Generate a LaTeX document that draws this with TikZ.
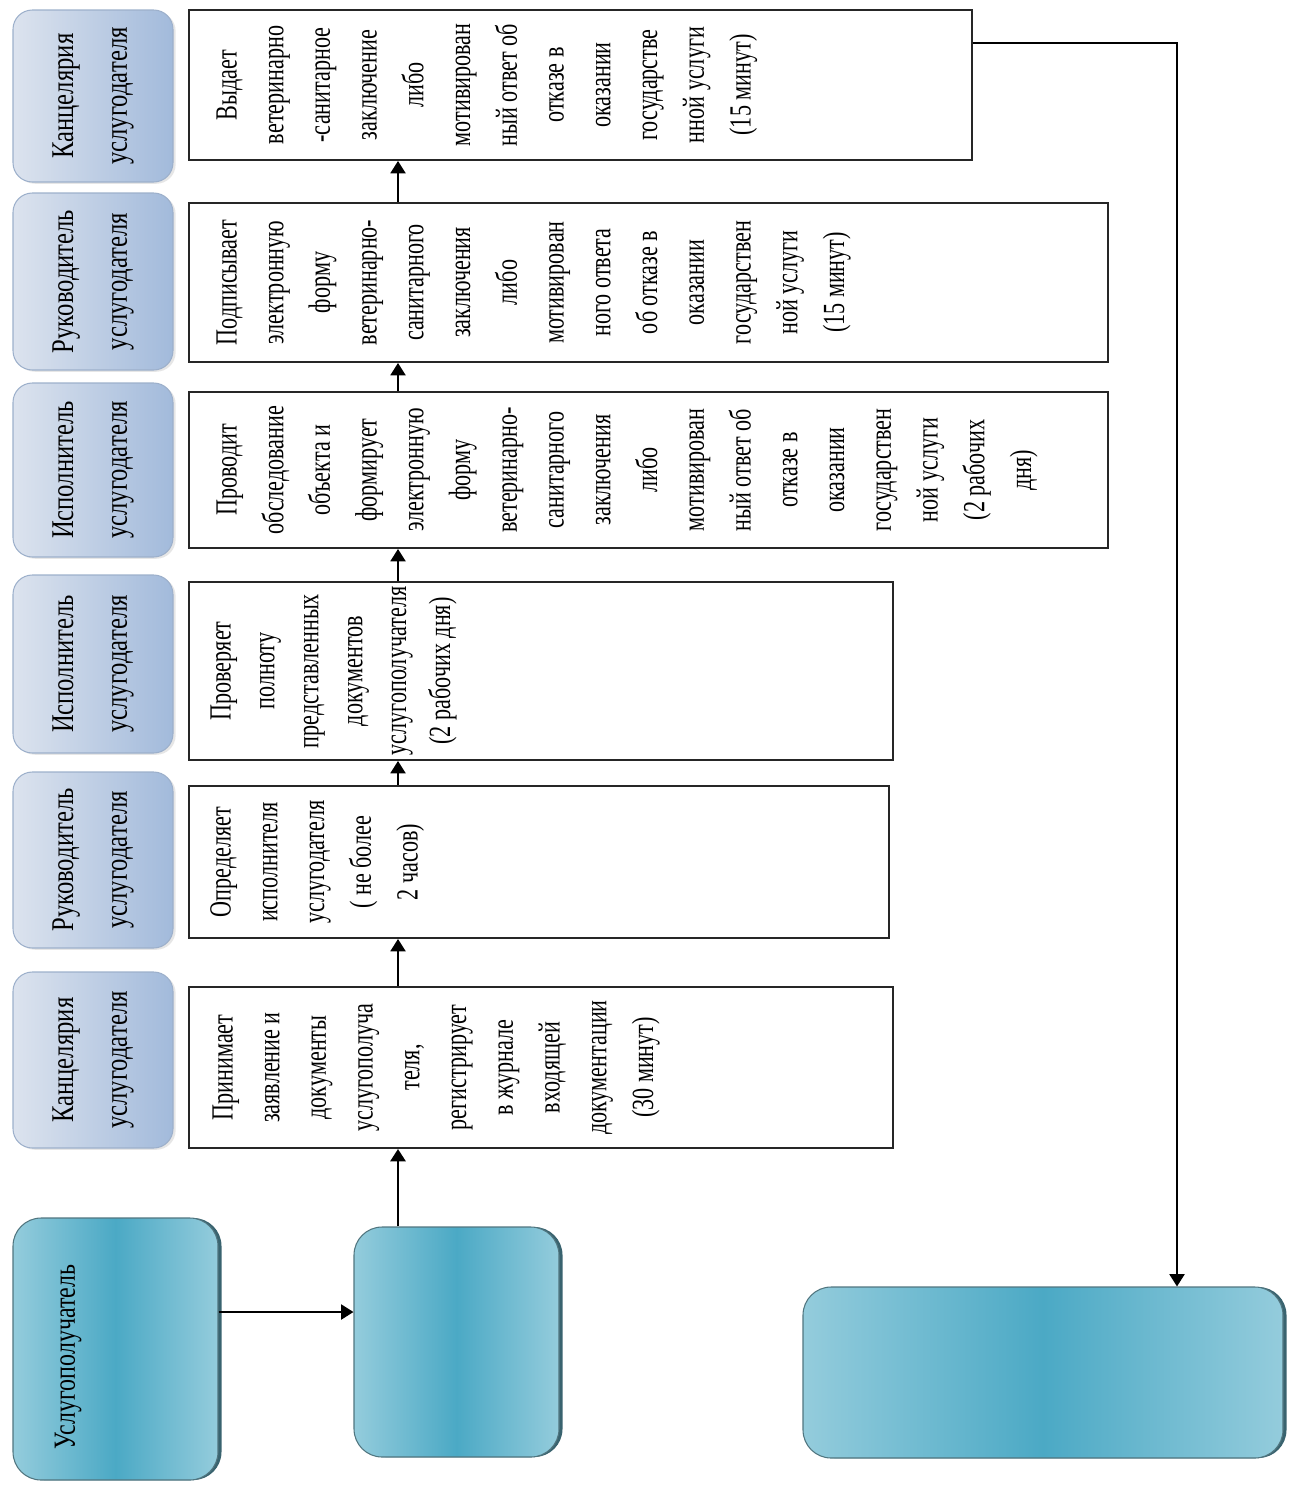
\documentclass[tikz,border=0pt]{standalone}
\usepackage{fontspec}
\setmainfont{Liberation Serif}
\newfontfamily\bodyfont[FakeStretch=0.72]{Liberation Serif}
\newfontfamily\headfont[FakeStretch=0.78]{Liberation Serif}
\usetikzlibrary{arrows.meta,calc,fit,shadows}
\definecolor{hL}{HTML}{DCE3EE}
\definecolor{hR}{HTML}{A2BADB}
\definecolor{hD}{HTML}{9DB0CB}
\definecolor{tL}{HTML}{94CCDC}
\definecolor{tM}{HTML}{4BA9C5}
\definecolor{tD}{HTML}{24525F}
\tikzset{
  pbox/.style={draw=black!85, line width=1.1pt, fill=white, inner sep=0pt},
  hbox/.style={rounded corners=11pt, left color=hL, right color=hR, draw=hD, line width=0.6pt, inner sep=0pt,
    drop shadow={opacity=0.2, shadow xshift=1.5pt, shadow yshift=-1pt}},
  tbox/.style={rounded corners=16pt, left color=tL, right color=tL, middle color=tM, draw=tD!80, line width=0.6pt, inner sep=0pt,
    drop shadow={fill=tD, opacity=0.9, shadow xshift=2pt, shadow yshift=0pt}},
  ptext/.style={rotate=90, align=center, inner sep=0pt, font={\bodyfont\fontsize{17.5}{26.6}\selectfont}},
  htext/.style={rotate=90, align=center, inner sep=0pt, font={\headfont\fontsize{18}{30.6}\selectfont}},
  arr/.style={-{Triangle[width=8.5pt,length=7pt]}, line width=1.2pt},
}
\begin{document}
\begin{tikzpicture}[x=0.02cm, y=-0.02cm]
\useasboundingbox (0,0) rectangle (1290,1488);
% header boxes
\node[hbox, fit={(13,10) (173,182)}] (h1) {};
\node[hbox, fit={(13,193) (173,370)}] (h2) {};
\node[hbox, fit={(13,383) (173,557)}] (h3) {};
\node[hbox, fit={(13,575) (173,753)}] (h4) {};
\node[hbox, fit={(13,772) (173,948)}] (h5) {};
\node[hbox, fit={(13,972) (173,1148)}] (h6) {};
\node[htext] (ht1) at (h1.center) {Канцелярия\\услугодателя};
\node[htext] (ht2) at (h2.center) {Руководитель\\услугодателя};
\node[htext] (ht3) at (h3.center) {Исполнитель\\услугодателя};
\node[htext] (ht4) at (h4.center) {Исполнитель\\услугодателя};
\node[htext] (ht5) at (h5.center) {Руководитель\\услугодателя};
\node[htext] (ht6) at (h6.center) {Канцелярия\\услугодателя};
% process boxes
\node[pbox, fit={(189,10) (972,160)}] (b1) {};
\node[pbox, fit={(189,203) (1108,362)}] (b2) {};
\node[pbox, fit={(189,392) (1108,548)}] (b3) {};
\node[pbox, fit={(189,582) (893,760)}] (b4) {};
\node[pbox, fit={(189,786) (889,938)}] (b5) {};
\node[pbox, fit={(189,987) (893,1148)}] (b6) {};
\node[ptext, anchor=north] (p1) at ($(b1.west)+(28,0)$) {Выдает\\ветеринарно\\-санитарное\\заключение\\либо\\мотивирован\\ный ответ об\\отказе в\\оказании\\государстве\\нной услуги\\(15 минут)};
\node[ptext, anchor=north] (p2) at ($(b2.west)+(28,0)$) {Подписывает\\электронную\\форму\\ветеринарно-\\санитарного\\заключения\\либо\\мотивирован\\ного ответа\\об отказе в\\оказании\\государствен\\ной услуги\\(15 минут)};
\node[ptext, anchor=north] (p3) at ($(b3.west)+(28,0)$) {Проводит\\обследование\\объекта и\\формирует\\электронную\\форму\\ветеринарно-\\санитарного\\заключения\\либо\\мотивирован\\ный ответ об\\отказе в\\оказании\\государствен\\ной услуги\\(2 рабочих\\дня)};
\node[ptext, anchor=north, font={\bodyfont\fontsize{17.5}{25}\selectfont}] (p4) at ($(b4.west)+(22,0)$) {Проверяет\\полноту\\представленных\\документов\\услугополучателя\\(2 рабочих дня)};
\node[ptext, anchor=north] (p5) at ($(b5.west)+(22,0)$) {Определяет\\исполнителя\\услугодателя\\( не более\\2 часов)};
\node[ptext, anchor=north] (p6) at ($(b6.west)+(24,0)$) {Принимает\\заявление и\\документы\\услугополуча\\теля,\\регистрирует\\в журнале\\входящей\\документации\\(30 минут)};
% teal boxes
\node[tbox, fit={(13,1218) (218,1480)}] (u) {};
\node[tbox, fit={(354,1227) (559,1457)}] (t2) {};
\node[tbox, fit={(803,1287) (1283,1458)}] (t3) {};
\node[htext, anchor=north, font={\headfont\fontsize{17.5}{30}\selectfont}] (ut) at ($(u.west)+(42,8)$) {Услугополучатель};
% connectors
\coordinate (ax) at (398,0);
\coordinate (ay) at (0,1312);
\coordinate (c1) at (1177,43);
\draw[arr] (u.east |- ay) -- (t2.west |- ay);
\draw[arr, line width=1.6pt] (t2.north -| ax) -- (b6.south -| ax);
\draw[arr] (b6.north -| ax) -- (b5.south -| ax);
\draw[arr] (b5.north -| ax) -- (b4.south -| ax);
\draw[arr] (b4.north -| ax) -- (b3.south -| ax);
\draw[arr] (b3.north -| ax) -- (b2.south -| ax);
\draw[arr] (b2.north -| ax) -- (b1.south -| ax);
\draw[arr] (b1.east |- c1) -- (c1) -- (t3.north -| c1);
\end{tikzpicture}
\end{document}
